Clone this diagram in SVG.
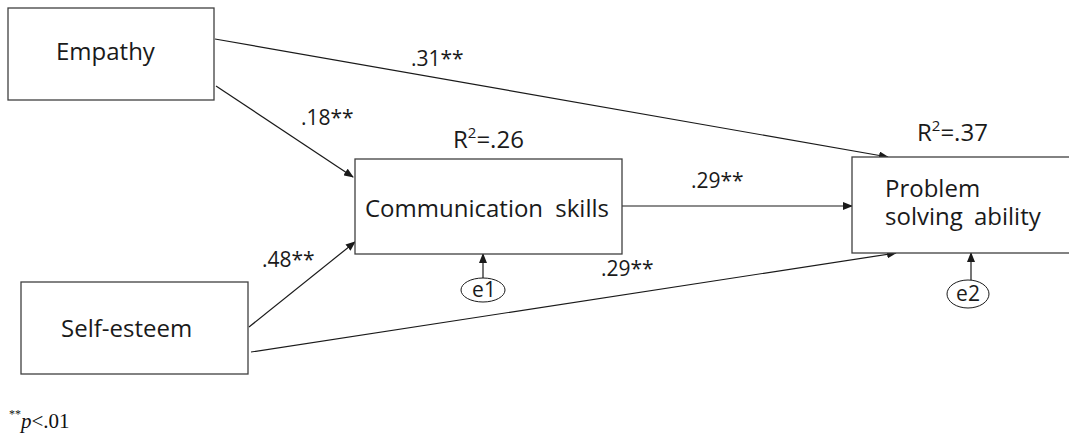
<svg xmlns="http://www.w3.org/2000/svg" width="1069" height="435" viewBox="0 0 1069 435">
<style>
.box{fill:#fff;stroke:#404040;stroke-width:1.3}
.t{font-family:"Open Sans","Noto Sans",sans-serif;font-size:24px;fill:#1a1a1a}
.lbl{font-family:"Open Sans","Noto Sans",sans-serif;font-size:21px;fill:#1a1a1a}
.c{stroke:#1a1a1a;stroke-width:1.2;fill:none}
.e{fill:#fff;stroke:#1a1a1a;stroke-width:1}
.fn{font-family:"Liberation Serif",serif;font-size:21px;fill:#111}
</style>
<defs>
<marker id="ah" markerWidth="10" markerHeight="8" refX="9" refY="4" orient="auto" markerUnits="userSpaceOnUse">
<path d="M0,0 L10,4 L0,8 z" fill="#1a1a1a"/>
</marker>
</defs>
<rect width="1069" height="435" fill="#fff"/>
<g id="connectors">
<line class="c" x1="215" y1="39" x2="888" y2="157" marker-end="url(#ah)"/>
<line class="c" x1="216" y1="86" x2="353" y2="177" marker-end="url(#ah)"/>
<line class="c" x1="249" y1="327" x2="355" y2="242" marker-end="url(#ah)"/>
<line class="c" x1="251" y1="352" x2="896" y2="253" marker-end="url(#ah)"/>
<line class="c" x1="622" y1="206" x2="852" y2="206" marker-end="url(#ah)"/>
<line class="c" x1="483" y1="278" x2="483" y2="254" marker-end="url(#ah)"/>
<line class="c" x1="971" y1="280" x2="971" y2="253" marker-end="url(#ah)"/>
<text class="lbl" x="411" y="66">.31**</text>
<text class="lbl" x="301" y="125">.18**</text>
<text class="lbl" x="262" y="267">.48**</text>
<text class="lbl" x="691" y="188">.29**</text>
<text class="lbl" x="601" y="276">.29**</text>
</g>
<g id="empathy">
<rect class="box" x="8" y="8" width="206" height="92"/>
<text class="t" x="56" y="60">Empathy</text>
</g>
<g id="self-esteem">
<rect class="box" x="21" y="282" width="227" height="92"/>
<text class="t" x="61" y="337">Self-esteem</text>
</g>
<g id="communication">
<rect class="box" x="355" y="159" width="267" height="95"/>
<text class="t" x="365" y="217" word-spacing="6">Communication skills</text>
<text class="t" x="453" y="148">R<tspan font-size="15" dy="-10">2</tspan><tspan dy="10">=.26</tspan></text>
</g>
<g id="problem">
<rect class="box" x="852" y="157" width="230" height="96"/>
<text class="t" word-spacing="5"><tspan x="885" y="197">Problem</tspan><tspan x="885" y="225">solving ability</tspan></text>
<text class="t" x="917" y="141">R<tspan font-size="15" dy="-10">2</tspan><tspan dy="10">=.37</tspan></text>
</g>
<g id="e1">
<ellipse class="e" cx="483" cy="290" rx="22" ry="12"/>
<text class="lbl" x="484" y="297" text-anchor="middle" font-size="20">e1</text>
</g>
<g id="e2">
<ellipse class="e" cx="968" cy="294" rx="21" ry="14"/>
<text class="lbl" x="968" y="301" text-anchor="middle" font-size="20">e2</text>
</g>
<g id="footnote">
<text class="fn" x="9" y="428"><tspan font-size="12" dy="-10">**</tspan><tspan dy="10" font-style="italic">p</tspan>&lt;.01</text>
</g>
</svg>
